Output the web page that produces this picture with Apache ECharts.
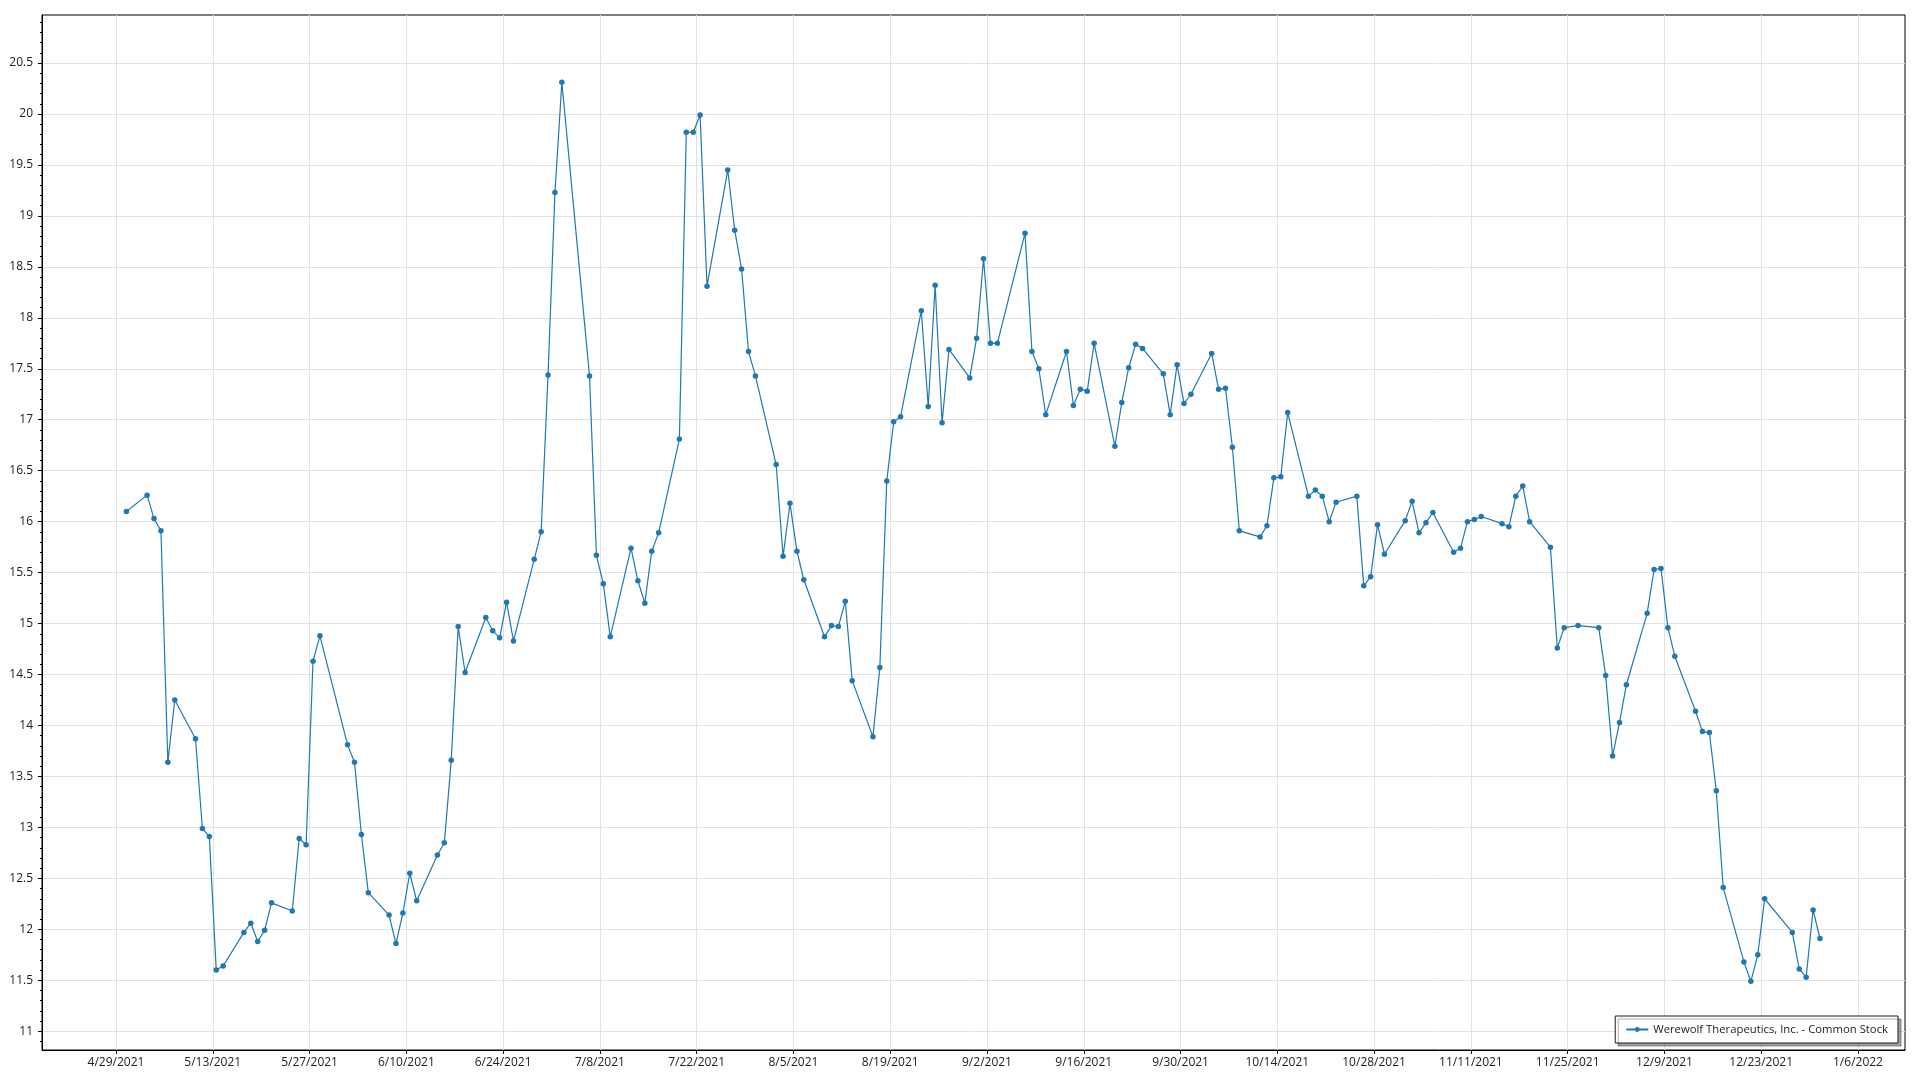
<!DOCTYPE html>
<html>
<head>
<meta charset="utf-8">
<script src="https://cdn.jsdelivr.net/npm/echarts@6/dist/echarts.min.js"></script>
<style>
html,body{margin:0;padding:0;background:#fff;}
#chart{width:1920px;height:1080px;}
</style>
</head>
<body>
<div id="chart"></div>
<script>
const seriesName = 'Werewolf Therapeutics, Inc. - Common Stock';

const dates = [
'2021-04-30',
'2021-05-03','2021-05-04','2021-05-05','2021-05-06','2021-05-07',
'2021-05-10','2021-05-11','2021-05-12','2021-05-13','2021-05-14',
'2021-05-17','2021-05-18','2021-05-19','2021-05-20','2021-05-21',
'2021-05-24','2021-05-25','2021-05-26','2021-05-27','2021-05-28',
'2021-06-01','2021-06-02','2021-06-03','2021-06-04',
'2021-06-07','2021-06-08','2021-06-09','2021-06-10','2021-06-11',
'2021-06-14','2021-06-15','2021-06-16','2021-06-17','2021-06-18',
'2021-06-21','2021-06-22','2021-06-23','2021-06-24','2021-06-25',
'2021-06-28','2021-06-29','2021-06-30','2021-07-01','2021-07-02',
'2021-07-06','2021-07-07','2021-07-08','2021-07-09',
'2021-07-12','2021-07-13','2021-07-14','2021-07-15','2021-07-16',
'2021-07-19','2021-07-20','2021-07-21','2021-07-22','2021-07-23',
'2021-07-26','2021-07-27','2021-07-28','2021-07-29','2021-07-30',
'2021-08-02','2021-08-03','2021-08-04','2021-08-05','2021-08-06',
'2021-08-09','2021-08-10','2021-08-11','2021-08-12','2021-08-13',
'2021-08-16','2021-08-17','2021-08-18','2021-08-19','2021-08-20',
'2021-08-23','2021-08-24','2021-08-25','2021-08-26','2021-08-27',
'2021-08-30','2021-08-31','2021-09-01','2021-09-02','2021-09-03',
'2021-09-07','2021-09-08','2021-09-09','2021-09-10',
'2021-09-13','2021-09-14','2021-09-15','2021-09-16','2021-09-17',
'2021-09-20','2021-09-21','2021-09-22','2021-09-23','2021-09-24',
'2021-09-27','2021-09-28','2021-09-29','2021-09-30','2021-10-01',
'2021-10-04','2021-10-05','2021-10-06','2021-10-07','2021-10-08',
'2021-10-11','2021-10-12','2021-10-13','2021-10-14','2021-10-15',
'2021-10-18','2021-10-19','2021-10-20','2021-10-21','2021-10-22',
'2021-10-25','2021-10-26','2021-10-27','2021-10-28','2021-10-29',
'2021-11-01','2021-11-02','2021-11-03','2021-11-04','2021-11-05',
'2021-11-08','2021-11-09','2021-11-10','2021-11-11','2021-11-12',
'2021-11-15','2021-11-16','2021-11-17','2021-11-18','2021-11-19',
'2021-11-22','2021-11-23','2021-11-24','2021-11-26',
'2021-11-29','2021-11-30','2021-12-01','2021-12-02','2021-12-03',
'2021-12-06','2021-12-07','2021-12-08','2021-12-09','2021-12-10',
'2021-12-13','2021-12-14','2021-12-15','2021-12-16','2021-12-17',
'2021-12-20','2021-12-21','2021-12-22','2021-12-23',
'2021-12-27','2021-12-28','2021-12-29','2021-12-30','2021-12-31'
];

const prices = [
16.10,
16.26,16.03,15.91,13.64,14.25,
13.87,12.99,12.91,11.60,11.64,
11.97,12.06,11.88,11.99,12.26,
12.18,12.89,12.83,14.63,14.88,
13.81,13.64,12.93,12.36,
12.14,11.86,12.16,12.55,12.28,
12.73,12.85,13.66,14.97,14.52,
15.06,14.93,14.86,15.21,14.83,
15.63,15.90,17.44,19.23,20.31,
17.43,15.67,15.39,14.87,
15.74,15.42,15.20,15.71,15.89,
16.81,19.82,19.82,19.99,18.31,
19.45,18.86,18.48,17.67,17.43,
16.56,15.66,16.18,15.71,15.43,
14.87,14.98,14.97,15.22,14.44,
13.89,14.57,16.40,16.98,17.03,
18.07,17.13,18.32,16.97,17.69,
17.41,17.80,18.58,17.75,17.75,
18.83,17.67,17.50,17.05,
17.67,17.14,17.30,17.28,17.75,
16.74,17.17,17.51,17.74,17.70,
17.45,17.05,17.54,17.16,17.25,
17.65,17.30,17.31,16.73,15.91,
15.85,15.96,16.43,16.44,17.07,
16.25,16.31,16.25,16.00,16.19,
16.25,15.37,15.46,15.97,15.68,
16.01,16.20,15.89,15.99,16.09,
15.70,15.74,16.00,16.02,16.05,
15.98,15.95,16.25,16.35,16.00,
15.75,14.76,14.96,14.98,
14.96,14.49,13.70,14.03,14.40,
15.10,15.53,15.54,14.96,14.68,
14.14,13.94,13.93,13.36,12.41,
11.68,11.49,11.75,12.30,
11.97,11.61,11.53,12.19,11.91
];

const xTickDates = [
'2021-04-29','2021-05-13','2021-05-27','2021-06-10','2021-06-24',
'2021-07-08','2021-07-22','2021-08-05','2021-08-19','2021-09-02',
'2021-09-16','2021-09-30','2021-10-14','2021-10-28','2021-11-11',
'2021-11-25','2021-12-09','2021-12-23','2022-01-06'
];

const yTickValues = [11, 11.5, 12, 12.5, 13, 13.5, 14, 14.5, 15, 15.5, 16, 16.5, 17, 17.5, 18, 18.5, 19, 19.5, 20, 20.5];

const DAY = 86400000;
function parseUTC(s) {
  const p = s.split('-').map(Number);
  return Date.UTC(p[0], p[1] - 1, p[2]);
}
const xTickValues = xTickDates.map(parseUTC);
const xMin = parseUTC('2021-04-29') - 10.705 * DAY;
const xMax = parseUTC('2021-04-29') + 258.8 * DAY;
const seriesData = dates.map((d, i) => [parseUTC(d) + 0.5 * DAY, prices[i]]);

const FONT = '"Segoe UI", "Open Sans", "Noto Sans", sans-serif';

const chart = echarts.init(document.getElementById('chart'), null, { renderer: 'canvas' });
chart.setOption({
  animation: false,
  backgroundColor: '#ffffff',
  textStyle: { fontFamily: FONT },
  grid: {
    left: 42, right: 15, top: 15, bottom: 30,
    show: true, borderColor: '#000', borderWidth: 1,
    containLabel: false, outerBoundsMode: 'none'
  },
  legend: {
    data: [seriesName],
    right: 22, bottom: 37,
    backgroundColor: '#ffffff',
    borderColor: '#1a1a1a', borderWidth: 1, borderRadius: 0,
    shadowColor: 'rgba(0,0,0,0.35)', shadowBlur: 1, shadowOffsetX: 3, shadowOffsetY: 3,
    padding: [6, 10, 6, 10],
    itemWidth: 22, itemHeight: 6,
    textStyle: { fontSize: 11.3, lineHeight: 15, color: '#222', fontFamily: FONT }
  },
  xAxis: {
    type: 'value',
    min: xMin, max: xMax,
    splitNumber: 18,
    axisLine: { show: true, lineStyle: { color: '#000', width: 1 } },
    axisTick: { show: true, length: 4, customValues: xTickValues, lineStyle: { color: '#000' } },
    axisLabel: {
      customValues: xTickValues,
      margin: 7, color: '#222', fontSize: 12, fontFamily: FONT,
      hideOverlap: false,
      formatter: function (v) {
        const d = new Date(v);
        return (d.getUTCMonth() + 1) + '/' + d.getUTCDate() + '/' + d.getUTCFullYear();
      }
    },
    splitLine: { show: true, lineStyle: { color: '#e2e2e2', width: 1 } },
    minorTick: { show: false }
  },
  yAxis: {
    type: 'value',
    min: 10.816, max: 20.971,
    splitNumber: 20,
    axisLine: { show: true, lineStyle: { color: '#000', width: 1 } },
    axisTick: { show: true, length: 4, customValues: yTickValues, lineStyle: { color: '#000' } },
    minorTick: { show: true, splitNumber: 5, length: 2, lineStyle: { color: '#000' } },
    axisLabel: {
      customValues: yTickValues,
      margin: 9, color: '#222', fontSize: 12, fontFamily: FONT,
      hideOverlap: false
    },
    splitLine: { show: true, lineStyle: { color: '#e2e2e2', width: 1 } }
  },
  series: [{
    name: seriesName,
    type: 'line',
    data: seriesData,
    symbol: 'circle',
    symbolSize: 5.5,
    showSymbol: true,
    showAllSymbol: true,
    lineStyle: { color: '#1f77b4', width: 1.2 },
    itemStyle: { color: '#1f77b4', borderWidth: 0 },
    emphasis: { disabled: true }
  }]
});
</script>
</body>
</html>
